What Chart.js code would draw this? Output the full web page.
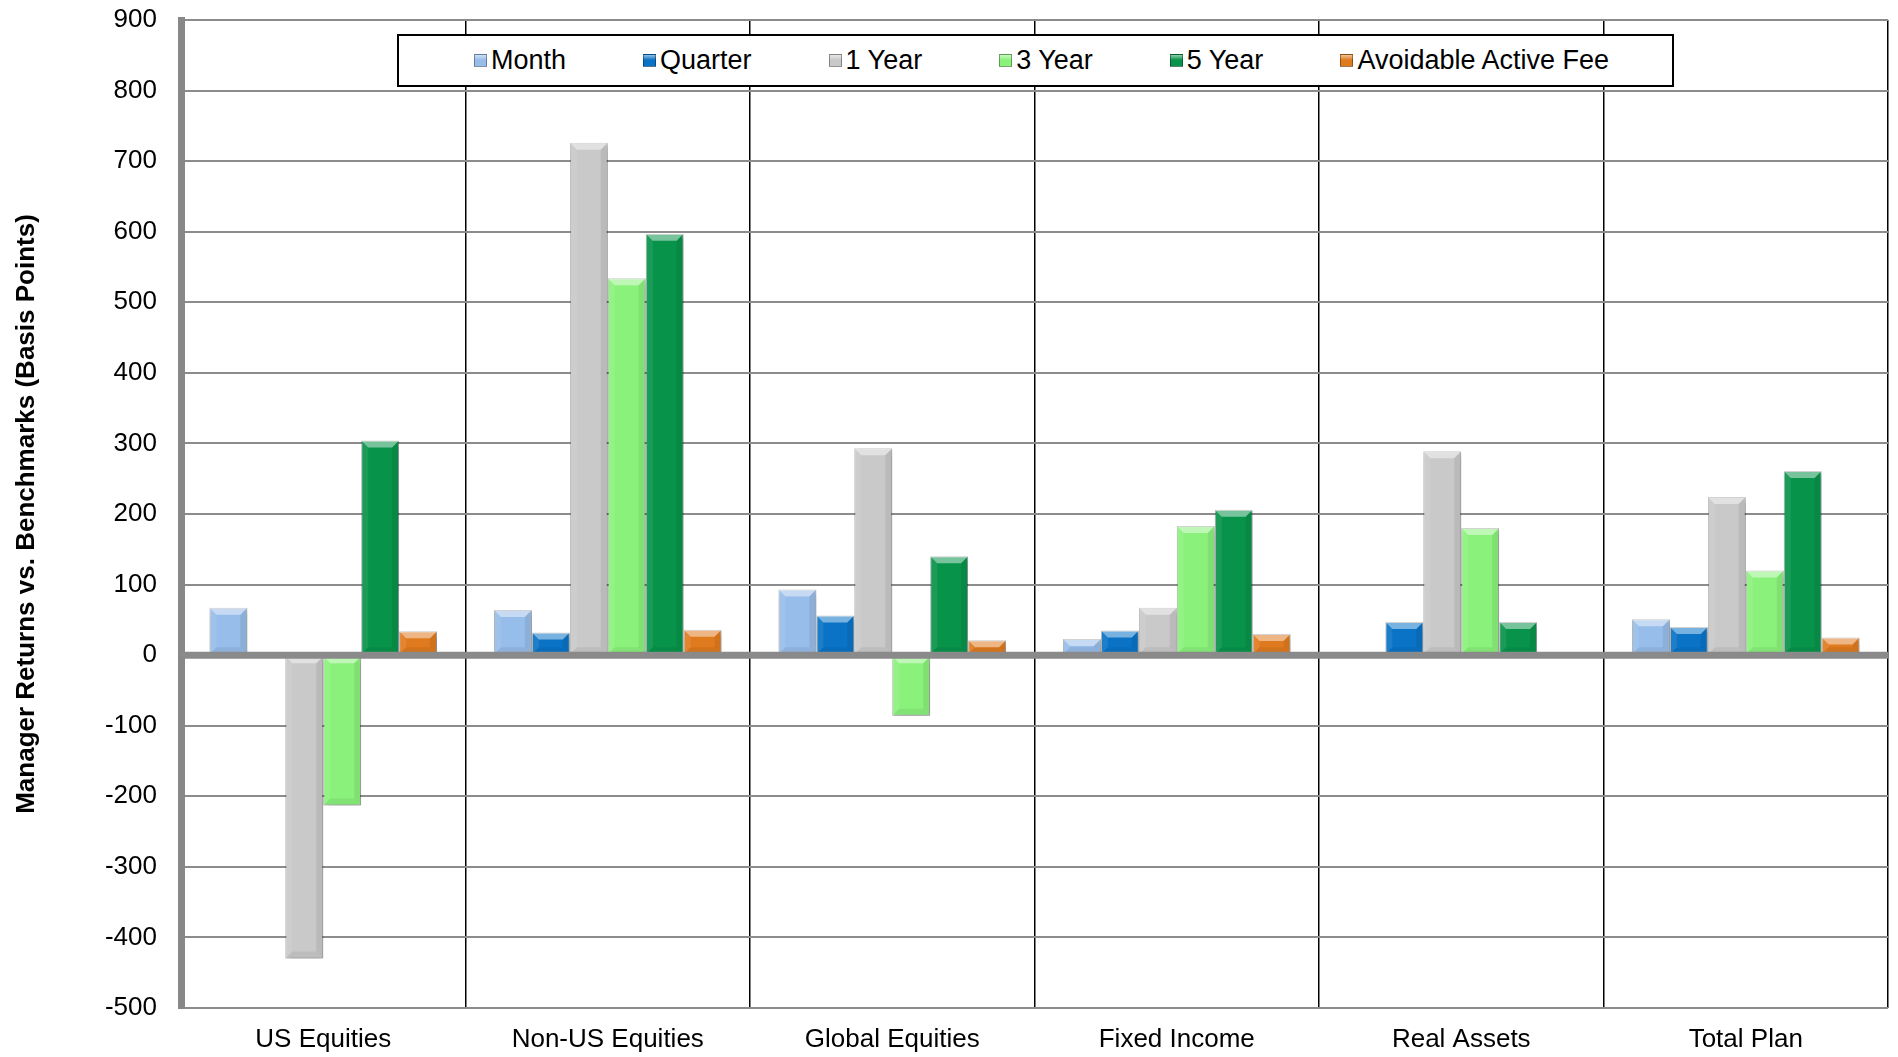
<!DOCTYPE html>
<html>
<head>
<meta charset="utf-8">
<script src="https://cdn.jsdelivr.net/npm/chart.js@4.4.1/dist/chart.umd.min.js"></script>
<style>
    html, body { margin: 0; padding: 0; background: #fff; }
    #wrap { position: relative; width: 1898px; height: 1057px; }
    #legend {
        position: absolute; left: 397px; top: 34px; width: 1277px; height: 53px;
        box-sizing: border-box; border: 2px solid #000; background: #fff;
        display: flex; align-items: center; padding-left: 75px; gap: 77px;
        font-family: "Liberation Sans", Arial, sans-serif; font-size: 27px; color: #000;
    }
    .item { display: flex; align-items: center; white-space: nowrap; }
    .swatch { width: 13px; height: 13px; margin-right: 4px; box-sizing: border-box; border: 1px solid rgba(0,0,0,0.35); }
</style>
</head>
<body>
<div id="wrap">
    <canvas id="chart" width="1898" height="1057"></canvas>
    <div id="legend"></div>
</div>
<script>
// Manager returns vs. benchmarks, basis points
const categories = ['US Equities', 'Non-US Equities', 'Global Equities', 'Fixed Income', 'Real Assets', 'Total Plan'];
const seriesNames = ['Month', 'Quarter', '1 Year', '3 Year', '5 Year', 'Avoidable Active Fee'];

const monthValues     = [67, 64, 93, 23, 0, 51];
const quarterValues   = [0, 32, 56, 35, 47, 40];
const oneYearValues   = [-430, 726, 293, 67, 289, 224];
const threeYearValues = [-213, 534, -86, 183, 180, 120];
const fiveYearValues  = [304, 597, 140, 206, 47, 261];
const activeFeeValues = [34, 36, 21, 30, 0, 25];

const yMin = -500;
const yMax = 900;
const yStep = 100;

const seriesValues = [monthValues, quarterValues, oneYearValues, threeYearValues, fiveYearValues, activeFeeValues];
const seriesColors = ['#97bdea', '#0a73c6', '#c9c9c9', '#8af27b', '#08934a', '#e07a1f'];

const FONT = '"Liberation Sans", Arial, sans-serif';

// Excel-style bevel on each bar, plus soft shadow and the heavy zero line
const bevelPlugin = {
    id: 'bevel',
    beforeDatasetsDraw(chart) {
        const ctx = chart.ctx;
        ctx.save();
        ctx.shadowColor = 'rgba(0,0,0,0.25)';
        ctx.shadowBlur = 6;
        ctx.shadowOffsetX = 2;
        ctx.shadowOffsetY = 3;
    },
    afterDatasetsDraw(chart) {
        const ctx = chart.ctx;
        ctx.restore();
        chart.data.datasets.forEach((ds, i) => {
            chart.getDatasetMeta(i).data.forEach(bar => {
                const p = bar.getProps(['x', 'y', 'base', 'width'], true);
                const l = p.x - p.width / 2, r = p.x + p.width / 2;
                const t = Math.min(p.y, p.base), b = Math.max(p.y, p.base);
                if (b - t < 1) return;
                const d = Math.min(7, (b - t) / 2, p.width / 2);
                const facet = (pts, color) => {
                    ctx.beginPath();
                    ctx.moveTo(pts[0][0], pts[0][1]);
                    pts.slice(1).forEach(q => ctx.lineTo(q[0], q[1]));
                    ctx.closePath();
                    ctx.fillStyle = color;
                    ctx.fill();
                };
                ctx.save();
                facet([[l, t], [r, t], [r - d, t + d], [l + d, t + d]], 'rgba(255,255,255,0.45)');
                facet([[l, b], [r, b], [r - d, b - d], [l + d, b - d]], 'rgba(0,0,0,0.06)');
                facet([[l, t], [l + d, t + d], [l + d, b - d], [l, b]], 'rgba(255,255,255,0.08)');
                facet([[r, t], [r - d, t + d], [r - d, b - d], [r, b]], 'rgba(0,0,0,0.07)');
                ctx.restore();
            });
        });

        const area = chart.chartArea;
        const y0 = chart.scales.y.getPixelForValue(0);
        ctx.save();
        ctx.strokeStyle = '#8a8a8a';
        ctx.lineWidth = 7;
        ctx.beginPath();
        ctx.moveTo(area.left, y0);
        ctx.lineTo(area.right, y0);
        ctx.stroke();
        ctx.restore();
    }
};

const chart = new Chart(document.getElementById('chart').getContext('2d'), {
    type: 'bar',
    data: {
        labels: categories,
        datasets: seriesNames.map((name, i) => ({
            label: name,
            data: seriesValues[i],
            backgroundColor: seriesColors[i],
            borderColor: 'rgba(0,0,0,0.3)',
            borderWidth: 1,
            borderSkipped: false,
            categoryPercentage: 0.8,
            barPercentage: 1.0
        }))
    },
    options: {
        responsive: false,
        animation: false,
        layout: {
            padding: { top: 20, right: 10, bottom: 0, left: 0 }
        },
        plugins: {
            legend: { display: false },
            tooltip: { enabled: false }
        },
        scales: {
            x: {
                offset: true,
                grid: {
                    offset: true,
                    color: '#000',
                    lineWidth: 1.5,
                    drawTicks: false
                },
                border: { display: false },
                ticks: {
                    color: '#000',
                    padding: 16,
                    font: { family: FONT, size: 26 }
                },
                afterFit: scale => {
                    scale.height = 49;
                    scale.paddingLeft = 0;
                    scale.paddingRight = 0;
                }
            },
            y: {
                min: yMin,
                max: yMax,
                ticks: {
                    stepSize: yStep,
                    color: '#000',
                    padding: 24,
                    font: { family: FONT, size: 26 }
                },
                grid: {
                    color: '#8c8c8c',
                    lineWidth: 2,
                    drawTicks: false
                },
                border: { display: true, color: '#888', width: 7 },
                title: {
                    display: true,
                    text: 'Manager Returns vs. Benchmarks (Basis Points)',
                    color: '#000',
                    padding: { top: 11, bottom: 0 },
                    font: { family: FONT, size: 26, weight: 'bold' }
                },
                afterFit: scale => {
                    scale.width = 181;
                    scale.paddingTop = 0;
                    scale.paddingBottom = 0;
                }
            }
        }
    },
    plugins: [bevelPlugin]
});

// HTML legend built from the chart's datasets
const legendEl = document.getElementById('legend');
chart.data.datasets.forEach(ds => {
    const item = document.createElement('div');
    item.className = 'item';
    const sw = document.createElement('span');
    sw.className = 'swatch';
    sw.style.background = 'linear-gradient(180deg, rgba(255,255,255,0.55) 0%, rgba(255,255,255,0) 45%), ' + ds.backgroundColor;
    const txt = document.createElement('span');
    txt.textContent = ds.label;
    item.appendChild(sw);
    item.appendChild(txt);
    legendEl.appendChild(item);
});
</script>
</body>
</html>
